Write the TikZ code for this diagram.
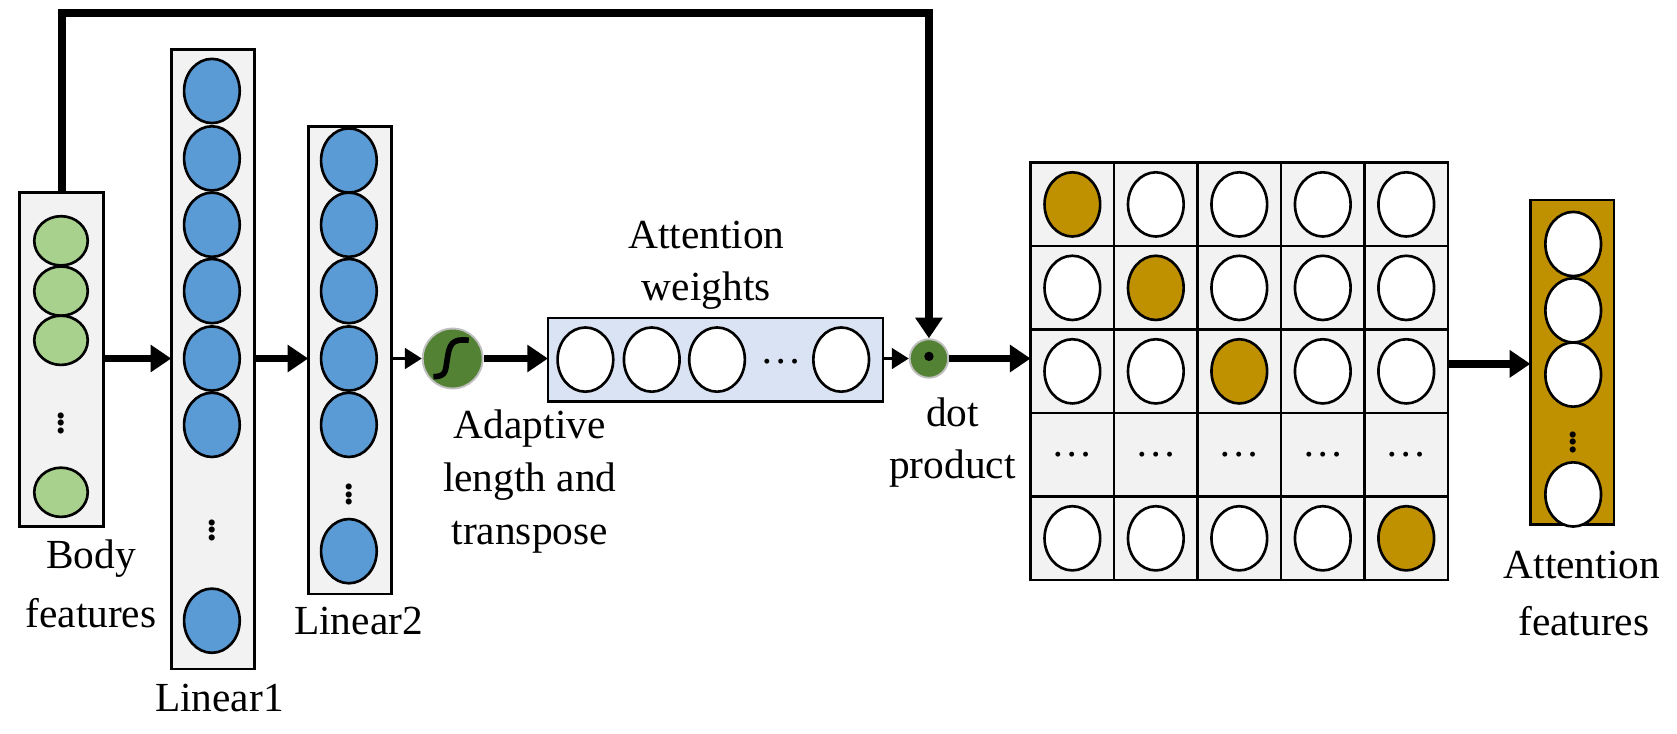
\documentclass[tikz,border=0pt]{standalone}
\usepackage{fontspec}
\setmainfont{Liberation Serif}
\usetikzlibrary{arrows.meta,shapes.geometric}
\definecolor{gr}{HTML}{A9D18E}
\definecolor{bl}{HTML}{5B9BD5}
\definecolor{gd}{HTML}{BF9000}
\definecolor{lb}{HTML}{DAE3F3}
\definecolor{dg}{HTML}{548235}
\definecolor{lg}{HTML}{F2F2F2}
\begin{document}
\begin{tikzpicture}[x=0.02cm,y=-0.02cm,
  box/.style={draw,line width=1.4pt,fill=lg},
  cir/.style={ellipse,draw,line width=1.4pt,minimum width=52*0.02cm,minimum height=60*0.02cm,inner sep=0pt},
  sc/.style={minimum width=50*0.02cm,minimum height=46*0.02cm},
  lbl/.style={font=\fontsize{22}{26}\selectfont,align=center,inner sep=0pt},
  big/.style={line width=4pt,-{Triangle[length=11pt,width=14pt]}},
  thin/.style={line width=1.5pt,-{Triangle[length=9pt,width=11pt]}},
  vd/.style={font=\fontsize{20}{20}\selectfont\bfseries,inner sep=0pt}]
\useasboundingbox (0,0) rectangle (1567,685);
% Body
\draw[box] (18,180) rectangle (97,492);
\coordinate (btop) at (58,180);
\foreach \y/\n in {225/1,272/2,318/3,460/4} \node[cir,sc,fill=gr] (b\n) at (57,\y) {};
\node[vd] (bd) at (57,390) {$\vdots$};
\node[lbl] (bl) at (85,522) {Body};
\node[lbl] (bl2) at (85,573) {features};
% Linear1
\draw[box] (160,46) rectangle (238,625);
\foreach \y/\n in {85/1,148/2,210/3,272/4,335/5,397/6,580/7} \node[cir,fill=bl] (l\n) at (198,\y) {};
\node[vd] (ld) at (198,490) {$\vdots$};
\node[lbl] (ll) at (205,652) {Linear1};
% Linear2
\draw[box] (288,118) rectangle (366,555);
\foreach \y/\n in {150/1,210/2,272/3,335/4,397/5,515/6} \node[cir,fill=bl] (m\n) at (326,\y) {};
\node[vd] (md) at (326,457) {$\vdots$};
\node[lbl] (ml) at (335,580) {Linear2};
% arrows
\coordinate (a1s) at (97,335); \coordinate (a1e) at (160,335);
\draw[big] (a1s) -- (a1e);
\coordinate (a2s) at (238,335); \coordinate (a2e) at (288,335);
\draw[big] (a2s) -- (a2e);
% sigmoid
\node[circle,fill=dg,draw=gray!50,line width=1pt,minimum size=56*0.02cm,inner sep=0pt] (sig) at (423,335) {};
\draw[line width=3pt] (405,352) .. controls (418,352) and (416,345) .. (418,335) .. controls (420,322) and (422,316) .. (438,318);
\coordinate (a3s) at (366,335);
\draw[thin] (a3s) -- (sig);
% attention weights
\draw[box,fill=lb] (512,297) rectangle (825,375);
\foreach \x/\n in {547/1,609/2,670/3,786/4} \node[cir,fill=white] (w\n) at (\x,336) {};
\node[lbl] (wd) at (730,338) {\dots};
\node[lbl] (wl) at (660,220) {Attention};
\node[lbl] (wl2) at (660,272) {weights};
\coordinate (wbl) at (512,335); \coordinate (wbr) at (825,335);
\draw[big] (sig) -- (wbl);
\node[lbl,anchor=north] (ad) at (495,383) {Adaptive\\[2pt]length and\\[2pt]transpose};
% dot
\node[circle,fill=dg,draw=gray!50,line width=1pt,minimum size=36*0.02cm,inner sep=0pt] (dot) at (868,335) {};
\fill (868,333) circle (2.5pt);
\draw[thin] (wbr) -- (dot);
\node[lbl] (dl) at (890,385) {dot};
\node[lbl] (dl2) at (890,438) {product};
\draw[line width=4pt] (btop) -- (58,12) -- (868,12) -- (868,290);
\coordinate (loopend) at (868,270);
\draw[big] (loopend) -- (dot.north);
% matrix
\coordinate (ms) at (963,335);
\draw[big] (dot) -- (ms);
\foreach \r in {0,...,4} \foreach \c in {0,...,4}
  \draw[box,fill=lg] (963+78*\c,152+78*\r) rectangle (963+78*\c+78,152+78*\r+78);
\foreach \r in {0,1,2,4} \foreach \c in {0,...,4} {
  \pgfmathsetmacro\isg{(\r==\c) || (\r==4 && \c==4) ? 1 : 0}
  \ifdim\isg pt>0.5pt
    \node[cir,fill=gd] (c\r\c) at (963+39+78*\c,152+39+78*\r) {};
  \else
    \node[cir,fill=white] (c\r\c) at (963+39+78*\c,152+39+78*\r) {};
  \fi}
\foreach \c in {0,...,4} \node[lbl] (cd\c) at (963+39+78*\c,425) {\dots};
% output
\coordinate (os) at (1353,340); \coordinate (oe) at (1430,340);
\draw[big] (os) -- (oe);
\draw[line width=1.4pt,fill=gd] (1430,187) rectangle (1508,490);
\foreach \y/\n in {228/1,290/2,350/3,462/4} \node[cir,fill=white] (p\n) at (1470,\y) {};
\node[vd] (od) at (1470,408) {$\vdots$};
\node[lbl] (ol) at (1478,528) {Attention};
\node[lbl] (ol2) at (1480,580) {features};
\end{tikzpicture}
\end{document}
